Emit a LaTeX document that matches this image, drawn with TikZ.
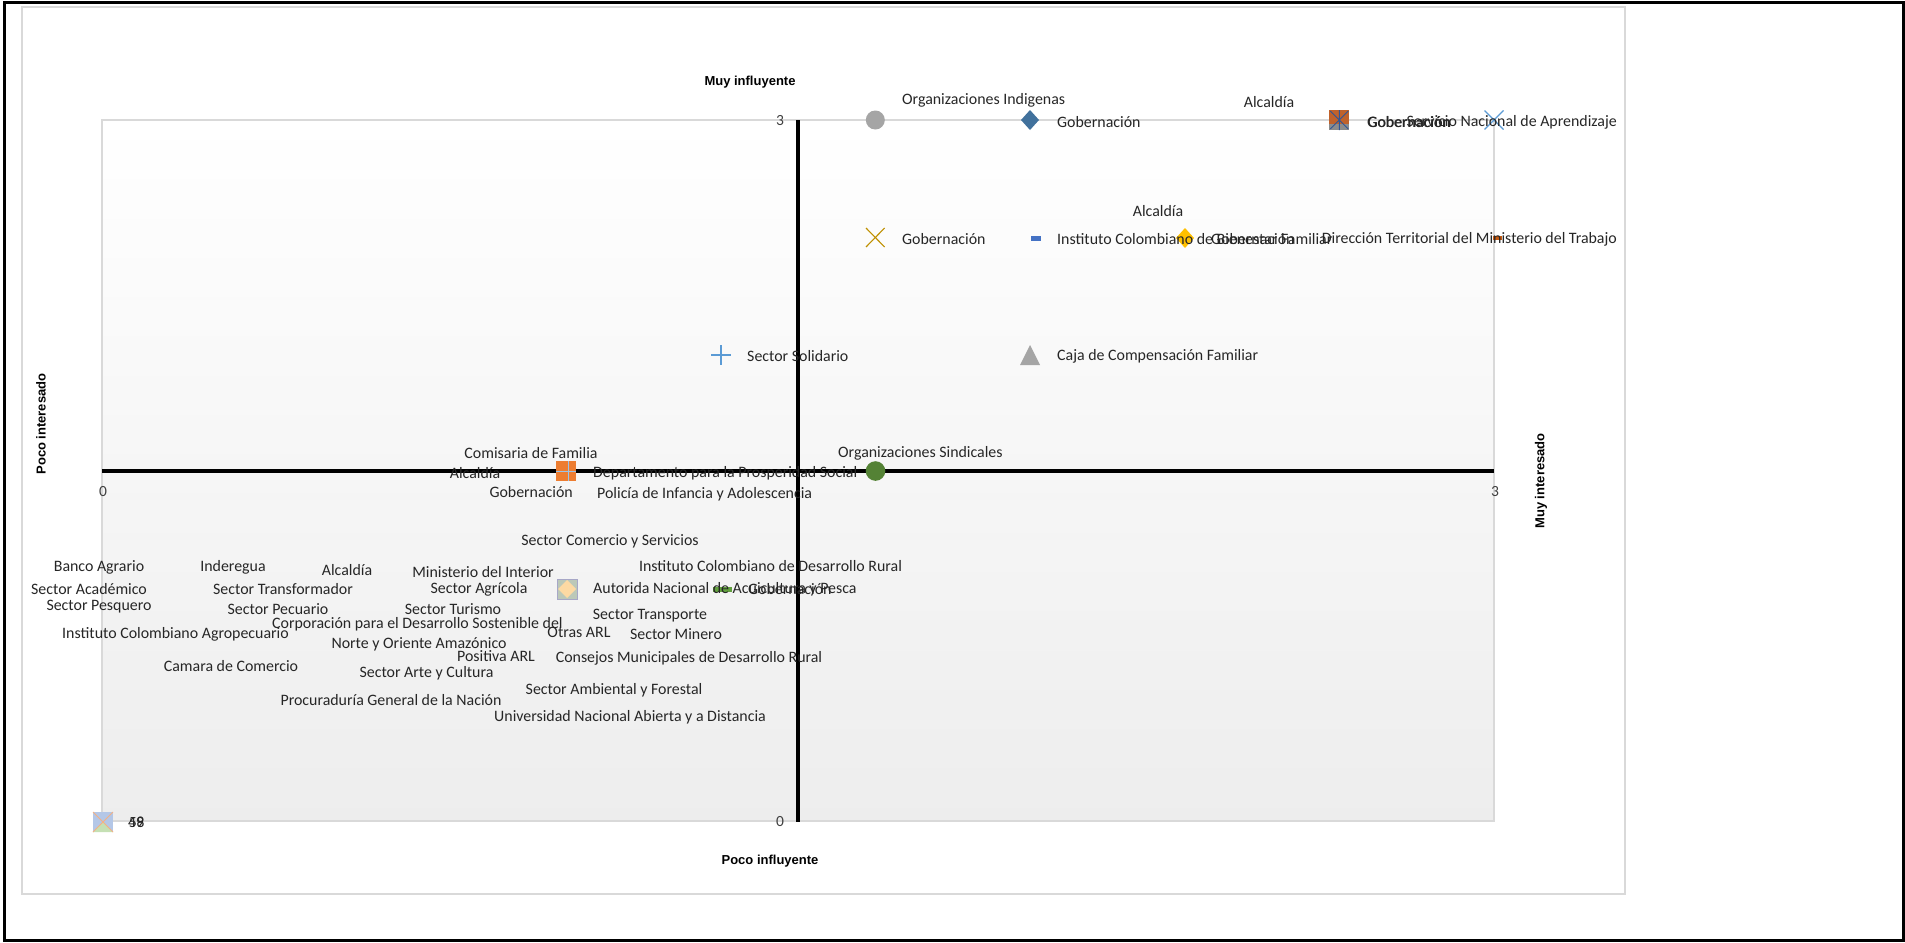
\documentclass[tikz,border=0pt]{standalone}
\usepackage{fontspec}
\setmainfont{Carlito}
\newfontfamily\ttlfont{Liberation Sans}
\definecolor{lblc}{HTML}{262626}
\definecolor{tickc}{HTML}{404040}
\definecolor{chartb}{HTML}{D9D9D9}
\definecolor{gridc}{HTML}{D9D9D9}
\definecolor{mgray}{HTML}{A5A5A5}
\definecolor{mdblue}{HTML}{41719C}
\definecolor{mbrown}{HTML}{C0622B}
\definecolor{mdgray}{HTML}{8C8C8C}
\definecolor{mnavy}{HTML}{2F5597}
\definecolor{mlblue}{HTML}{5B9BD5}
\definecolor{mgold}{HTML}{BF9000}
\definecolor{mblue}{HTML}{4472C4}
\definecolor{myellow}{HTML}{FFC000}
\definecolor{morange}{HTML}{ED7D31}
\definecolor{mrust}{HTML}{C55A11}
\definecolor{mgreen}{HTML}{548235}
\definecolor{mlgreen}{HTML}{62A03E}
\definecolor{mpeach}{HTML}{FDD9A3}
\definecolor{msq}{HTML}{BCC8B8}
\definecolor{msqb}{HTML}{A7A7C7}
\definecolor{mpaleblue}{HTML}{B4C7E7}
\definecolor{mpalegreen}{HTML}{C5E0B4}
\definecolor{mpink}{HTML}{F4B183}
\definecolor{mcross}{HTML}{9DC3E6}
\begin{document}
\begin{tikzpicture}[x=1pt,y=-1pt,
  lbl/.style={font=\fontsize{15.9}{19}\selectfont, text=lblc, inner sep=0pt},
  ttl/.style={font=\ttlfont\bfseries\fontsize{13}{15}\selectfont, text=black, inner sep=0pt},
  ticklbl/.style={font=\fontsize{15.5}{18}\selectfont, text=tickc, inner sep=0pt},
  thinmark/.style={line width=1.1pt}]
\useasboundingbox (0,0) rectangle (1905,942);
\fill[white] (0,0) rectangle (1905,942);
% outer frame and chart area
\draw[line width=3pt] (4.5,2.8) rectangle (1903,940.5);
\draw[chartb, line width=1.3pt] (22,7) rectangle (1625,894);
% plot area
\shade[top color=white, bottom color=black!7] (102,120) rectangle (1494,821);
\draw[gridc, line width=1.3pt] (102,120) rectangle (1494,821);
% axes
\coordinate (xl) at (102,470.5);
\coordinate (xr) at (1494,470.5);
\coordinate (yt) at (798,120);
\coordinate (yb) at (798,822);
\draw[line width=4pt] (xl) -- (xr);
\draw[line width=4pt] (yt) -- (yb);
% tick labels
\node[ticklbl] (t3v) at (780,121) {3};
\node[ticklbl] (t0v) at (780,822) {0};
\node[ticklbl] (t0h) at (103,492) {0};
\node[ticklbl] (t3h) at (1495,492) {3};
% axis titles
\node[ttl] (tmuyinf) at (750,82) {Muy influyente};
\node[ttl] (tpocoinf) at (770,861) {Poco influyente};
\node[ttl, rotate=90] (tpocoint) at (41,424) {Poco interesado};
\node[ttl, rotate=90] (tmuyint) at (1541,481) {Muy interesado};

% ---------- markers ----------
% row y=3
\fill[mgray] (875.3,120) circle[radius=9.5pt];
\fill[mdblue] (1030,110) -- (1039,120) -- (1030,130) -- (1021,120) -- cycle;
\fill[mbrown] (1329.3,110) rectangle (1349.3,130);
\fill[mdgray] (1329.3,124) rectangle (1349.3,130);
\draw[mnavy, line width=0.9pt] (1330.3,111) -- (1348.3,129) (1330.3,129) -- (1348.3,111) (1339.3,110) -- (1339.3,130);
\draw[mlblue, thinmark] (1484.5,110.5) -- (1503.5,129.5) (1484.5,129.5) -- (1503.5,110.5);
% row y=2.5
\draw[mgold, thinmark] (866,228) -- (884.6,247) (866,247) -- (884.6,228);
\fill[mblue] (1031,235.5) rectangle (1041,240.5);
\fill[myellow] (1185,228) -- (1194,238) -- (1185,248) -- (1176,238) -- cycle;
\fill[mrust] (1492.5,235.8) rectangle (1501.5,240.3);
% row y=2
\draw[mlblue, thinmark] (711,355) -- (731,355) (721,345) -- (721,365);
\fill[mgray] (1020,365) -- (1030,345) -- (1040,365) -- cycle;
% row y=1.5
\fill[morange] (556,461) rectangle (576,481);
\draw[mcross, line width=0.8pt] (556,471) -- (576,471) (568,461) -- (568,481);
\fill[mgreen] (875.5,471) circle[radius=9.8pt];
% row y=1
\filldraw[fill=msq, draw=msqb, line width=0.8pt] (557,579) rectangle (577,599);
\fill[mpeach] (567,580) -- (576,589) -- (567,598) -- (558,589) -- cycle;
\fill[mlgreen] (712.5,586.5) rectangle (731.5,591.5);
% origin marker
\fill[mpaleblue] (93,812) rectangle (113,832);
\fill[mpalegreen] (93,832) -- (103,822) -- (113,832) -- cycle;
\draw[mpink, line width=0.9pt] (93,812) -- (113,832) (93,832) -- (113,812);

% ---------- labels ----------
\node[lbl, anchor=west] (lOrgInd) at (902,100) {Organizaciones Indigenas};
\node[lbl, anchor=west] (lGob1) at (1057,122) {Gobernación};
\node[lbl] (lAlc1) at (1269,102) {Alcaldía};
\node[lbl, anchor=west] (lGob2) at (1367,122) {Gobernación};
\node[lbl, anchor=west] (lGob2b) at (1367.6,122) {Gobernación};
\node[lbl, anchor=east] (lSena) at (1617,122) {Servicio Nacional de Aprendizaje};

\node[lbl, anchor=west] (lGob3) at (902,239) {Gobernación};
\node[lbl, anchor=west] (lICBF) at (1057,239) {Instituto Colombiano de Bienestar Familiar};
\node[lbl] (lAlc2) at (1158,211) {Alcaldía};
\node[lbl, anchor=west] (lGob4) at (1211,239) {Gobernación};
\node[lbl, anchor=east] (lDirT) at (1617,239) {Dirección Territorial del Ministerio del Trabajo};

\node[lbl, anchor=west] (lSolid) at (747,356) {Sector Solidario};
\node[lbl, anchor=west] (lCaja) at (1057,356) {Caja de Compensación Familiar};

\node[lbl] (lComis) at (531,453) {Comisaria de Familia};
\node[lbl] (lAlc3) at (475,473) {Alcaldía};
\node[lbl, anchor=west] (lDPS) at (593,473) {Departamento para la Prosperidad Social};
\node[lbl, anchor=east] (lGob5) at (573,492) {Gobernación};
\node[lbl, anchor=west] (lPolicia) at (597,494) {Policía de Infancia y Adolescencia};
\node[lbl, anchor=west] (lSind) at (838,453) {Organizaciones Sindicales};

\node[lbl, anchor=west] (lAunap) at (593,589) {Autorida Nacional de Acuicultura y Pesca};
\node[lbl, anchor=west] (lGob6) at (748,589) {Gobernación};

\node[lbl] (lBanco) at (99,567) {Banco Agrario};
\node[lbl] (lInder) at (233,567) {Inderegua};
\node[lbl] (lAlc4) at (347,570) {Alcaldía};
\node[lbl] (lMinInt) at (483,572) {Ministerio del Interior};
\node[lbl] (lAcad) at (89,589) {Sector Académico};
\node[lbl] (lTransf) at (283,589) {Sector Transformador};
\node[lbl] (lAgric) at (479,589) {Sector Agrícola};
\node[lbl] (lPesq) at (99,607) {Sector Pesquero};
\node[lbl] (lPecu) at (278,609) {Sector Pecuario};
\node[lbl] (lTuris) at (453,609) {Sector Turismo};
\node[lbl, anchor=west] (lCorp) at (272,624.5) {Corporación para el Desarrollo Sostenible del};
\node[lbl] (lICA) at (175.5,634) {Instituto Colombiano Agropecuario};
\node[lbl] (lNorte) at (419,644) {Norte y Oriente Amazónico};
\node[lbl] (lPositiva) at (496,656) {Positiva ARL};
\node[lbl] (lCamara) at (231,666) {Camara de Comercio};
\node[lbl] (lArte) at (426.5,673) {Sector Arte y Cultura};
\node[lbl] (lProcu) at (391,700) {Procuraduría General de la Nación};
\node[lbl] (lComer) at (610,541) {Sector Comercio y Servicios};
\node[lbl] (lIncoder) at (770.5,566) {Instituto Colombiano de Desarrollo Rural};
\node[lbl] (lTransp) at (650,616) {Sector Transporte};
\node[lbl] (lOtras) at (579,632) {Otras ARL};
\node[lbl] (lMinero) at (676,634) {Sector Minero};
\node[lbl] (lConsejos) at (689,658.5) {Consejos Municipales de Desarrollo Rural};
\node[lbl] (lAmb) at (614,690) {Sector Ambiental y Forestal};
\node[lbl] (lUnad) at (630,717) {Universidad Nacional Abierta y a Distancia};

% origin overlapped labels
\node[ticklbl, text=lblc, anchor=west] (lN1) at (128,822) {49};
\node[ticklbl, text=lblc, anchor=west] (lN2) at (128.6,822) {58};
\end{tikzpicture}
\end{document}
